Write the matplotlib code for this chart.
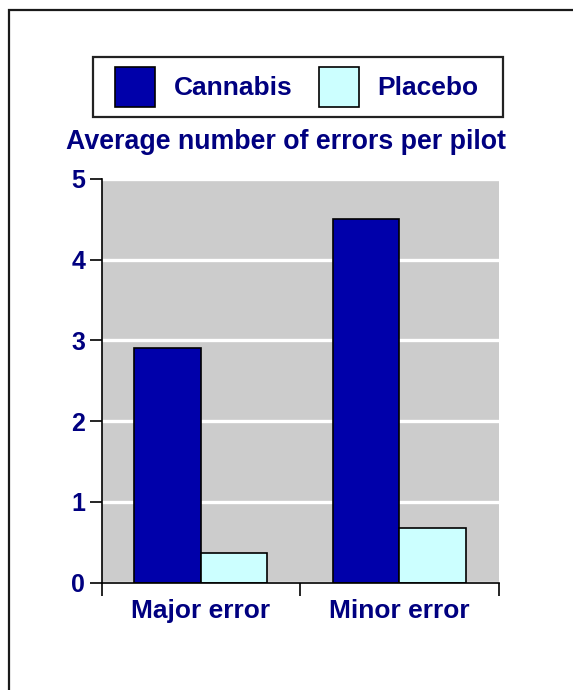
import matplotlib.pyplot as plt
import matplotlib.patches as mpatches
import numpy as np

plt.rcParams['font.family'] = ['Liberation Sans', 'DejaVu Sans']
plt.rcParams['font.weight'] = 'bold'

# Data
categories = ['Major error', 'Minor error']
cannabis = [2.9, 4.5]
placebo = [0.37, 0.68]
yticks = [0, 1, 2, 3, 4, 5]

navy = '#000080'
col_cannabis = '#0000AA'
col_placebo = '#CCFFFF'

fig = plt.figure(figsize=(5.73, 6.9), dpi=100)

# outer frame (right and bottom sides run off the picture)
frame = mpatches.Rectangle((9 / 573, -0.2), 1.2, 0.2 + 1 - 10 / 690,
                           transform=fig.transFigure, fill=False,
                           edgecolor='#1a1a1a', linewidth=1.6)
fig.patches.append(frame)

# legend box
legbox = mpatches.Rectangle((93 / 573, 1 - 117 / 690), 410 / 573, 60 / 690,
                            transform=fig.transFigure, fill=False,
                            edgecolor='#222222', linewidth=1.6)
fig.patches.append(legbox)

ax = fig.add_axes([0.1775, 0.1555, 0.6925, 0.5855])
ax.set_facecolor('#CCCCCC')

x = np.arange(len(categories))
w = 0.335
b1 = ax.bar(x - w, cannabis, w, align='edge', color=col_cannabis,
            edgecolor='black', linewidth=1.2, label='Cannabis', zorder=3)
b2 = ax.bar(x, placebo, w, align='edge', color=col_placebo,
            edgecolor='black', linewidth=1.2, label='Placebo', zorder=3)

ax.set_xlim(-0.5, 1.5)
ax.set_ylim(0, 5)

# grid lines as white bands
ax.set_yticks(yticks)
ax.yaxis.grid(True, color='white', linewidth=2.4, zorder=1)
ax.set_axisbelow(True)

for s in ['top', 'right']:
    ax.spines[s].set_visible(False)
for s in ['left', 'bottom']:
    ax.spines[s].set_linewidth(1.2)
    ax.spines[s].set_zorder(4)

ax.tick_params(axis='y', length=9, width=1.2, pad=3, labelsize=18,
               labelcolor=navy)

# category boundaries as ticks, names as minor ticks
ax.set_xticks([-0.5, 0.5, 1.5])
ax.set_xticklabels([])
ax.tick_params(axis='x', which='major', length=9, width=1.2)
ax.set_xticks(x, minor=True)
ax.set_xticklabels(categories, minor=True)
ax.tick_params(axis='x', which='minor', length=0, pad=12, labelsize=19,
               labelcolor=navy)

fig.text(0.499, 1 - 149 / 690, 'Average number of errors per pilot',
         ha='center', va='baseline', fontsize=19.3, color=navy,
         fontweight='bold')

leg = fig.legend(handles=[b1, b2], loc='center',
                 bbox_to_anchor=(0.5183, 1 - 87 / 690), ncol=2,
                 fontsize=19, frameon=False,
                 handlelength=1.5, handleheight=1.9, handletextpad=0.72,
                 columnspacing=1.0, borderpad=0.0, borderaxespad=0)
for t in leg.get_texts():
    t.set_color(navy)

fig.savefig('out.png', dpi=100)
